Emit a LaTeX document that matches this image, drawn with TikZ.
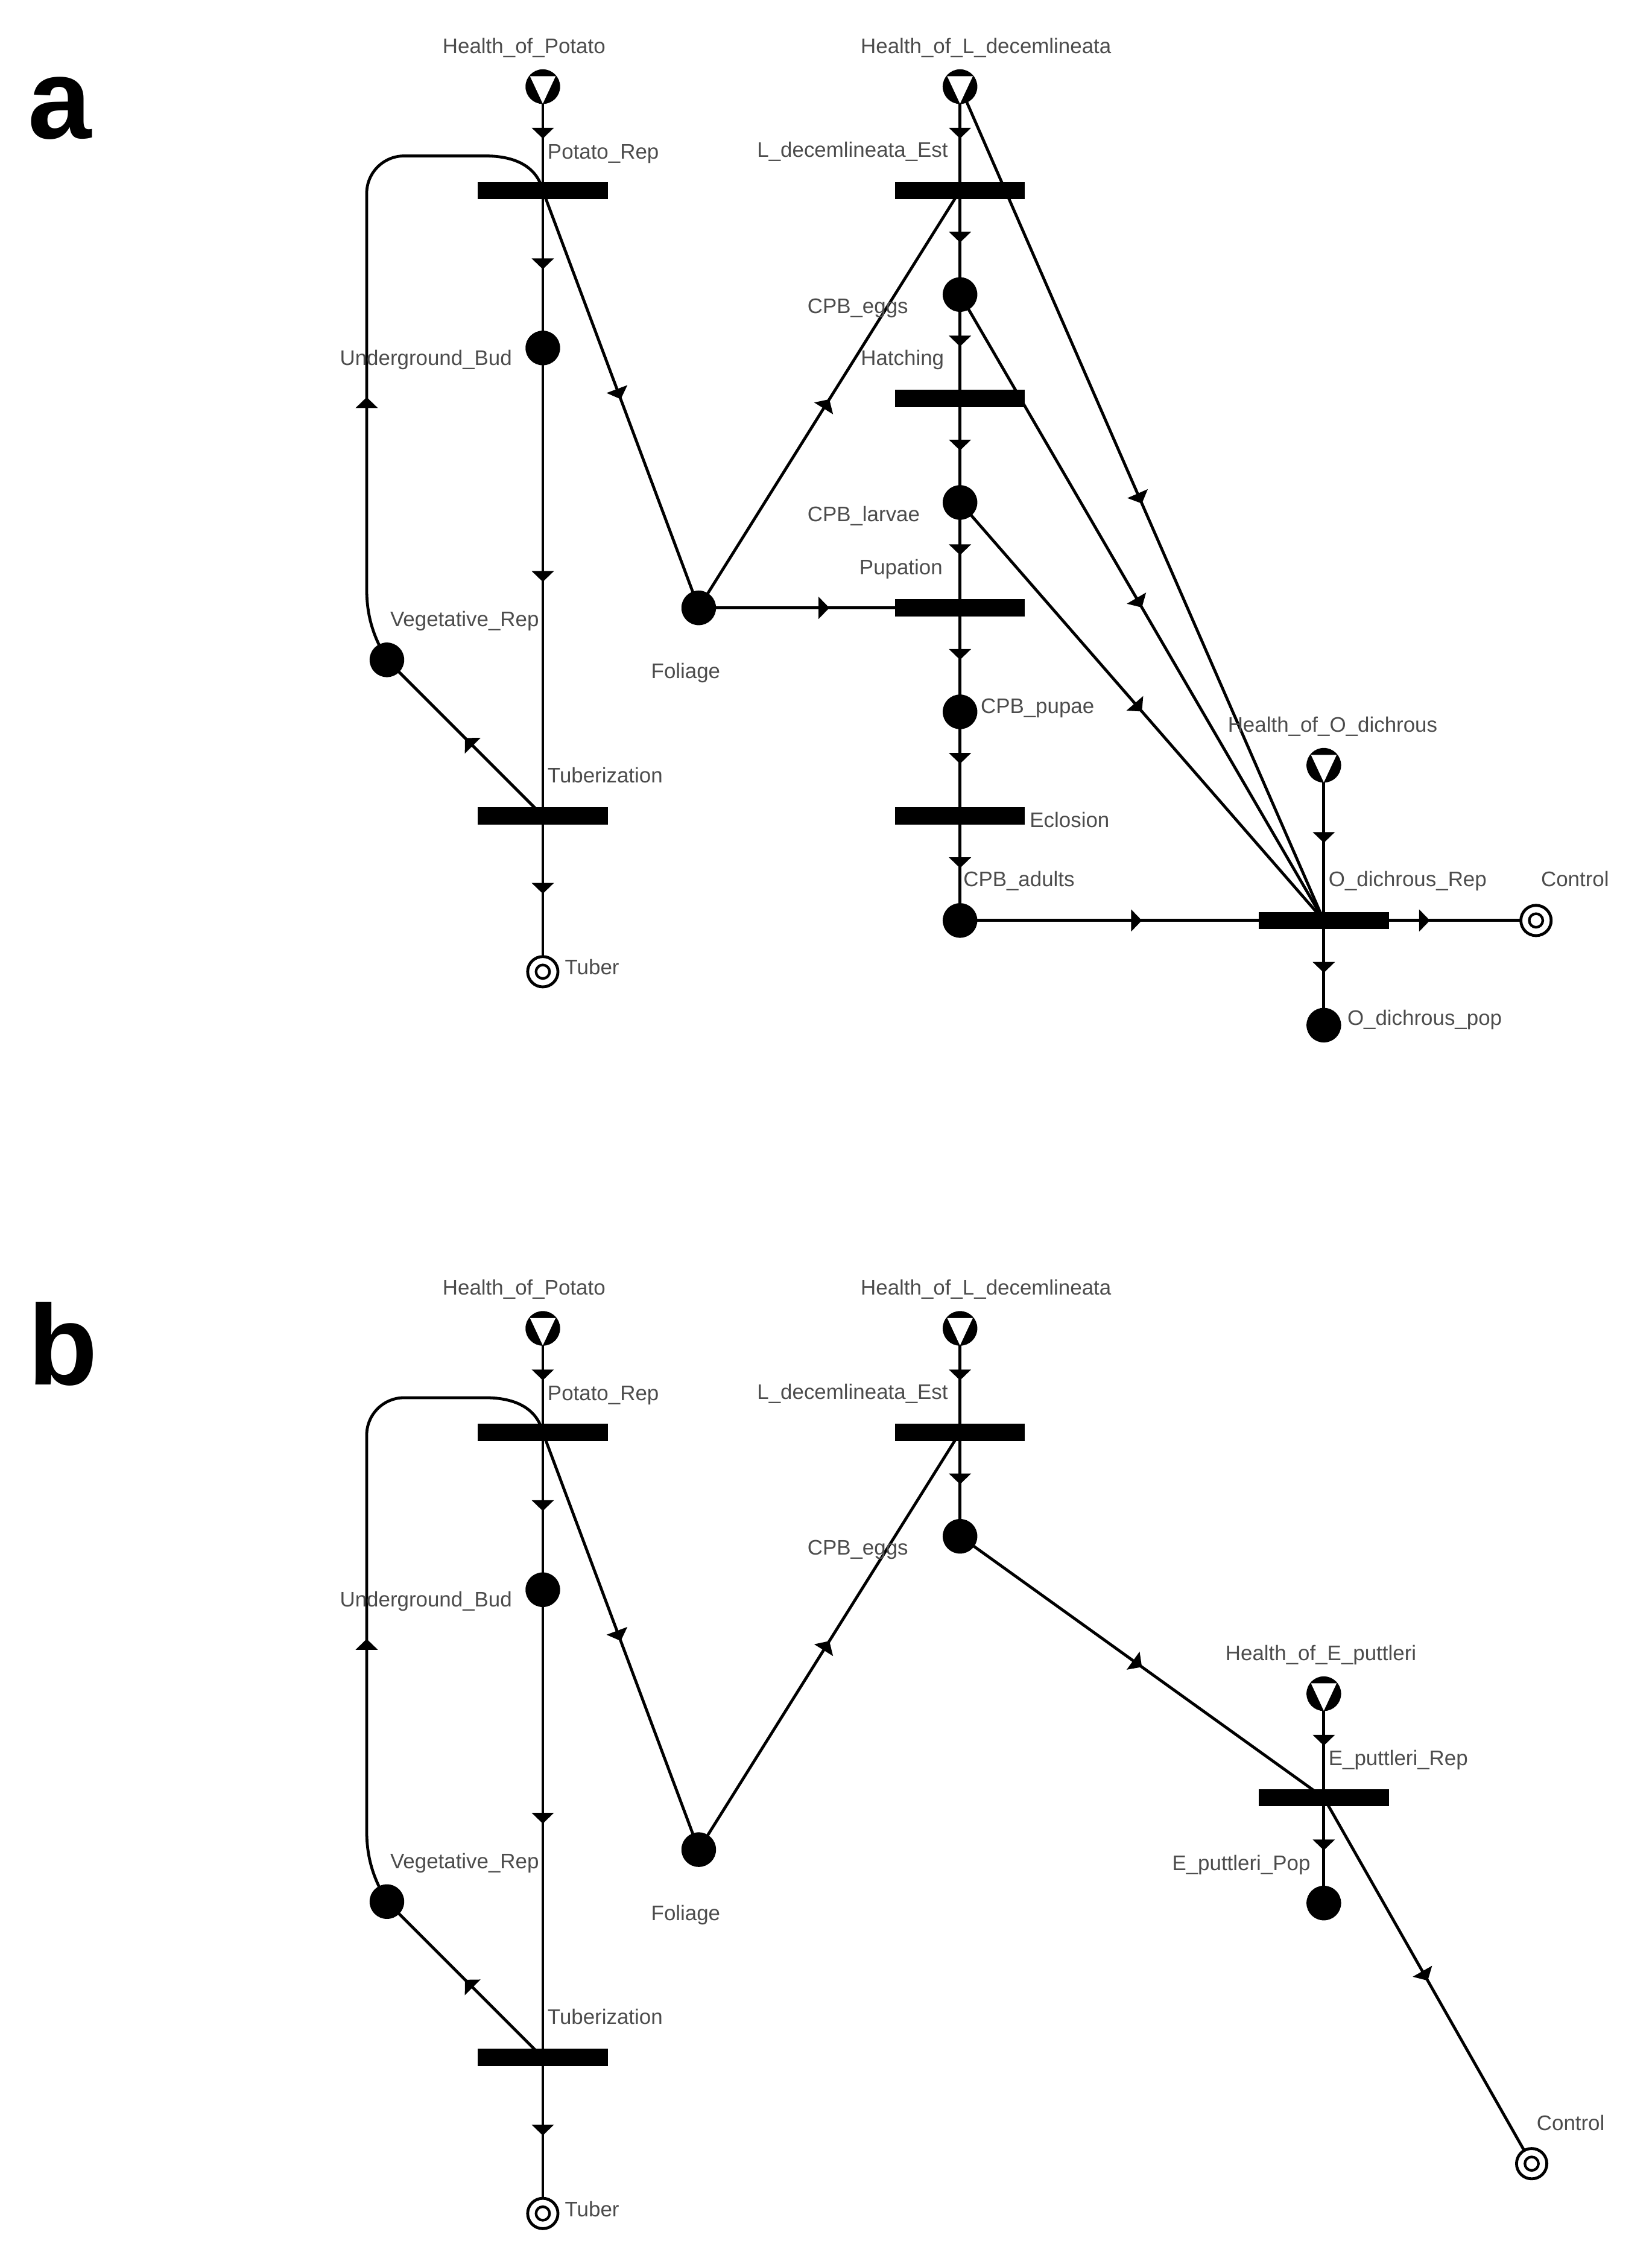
\documentclass[tikz,border=0pt]{standalone}
\usepackage{fontspec}
\setmainfont{Liberation Sans}
\usetikzlibrary{arrows.meta,decorations.markings,backgrounds}
\definecolor{lblgray}{gray}{0.3}

\tikzset{
  place/.style={circle, fill=black, minimum size=0.48cm, inner sep=0pt},
  bar/.style={rectangle, fill=black, minimum width=1.8cm, minimum height=0.24cm, inner sep=0pt},
  src/.style={circle, fill=black, minimum size=0.48cm, inner sep=0pt,
    path picture={\fill[white] ([shift={(141:0.228cm)}]path picture bounding box.center)
      -- ([shift={(39:0.228cm)}]path picture bounding box.center)
      -- ([shift={(270:0.236cm)}]path picture bounding box.center) -- cycle;}},
  sink/.style={circle, draw=black, line width=0.04cm, fill=white, minimum size=0.42cm, inner sep=0pt,
    path picture={\draw[line width=0.036cm] (path picture bounding box.center) circle[radius=0.094cm];}},
  lbl/.style={inner sep=0pt, text=lblgray, font=\fontsize{8.3}{10}\selectfont},
  panel/.style={inner sep=0pt, anchor=base west, font=\fontsize{45}{45}\selectfont\bfseries},
  conn/.style={line width=0.04cm, draw=black},
  midarr/.style={postaction={decorate}, decoration={markings,
      mark=at position #1 with {\arrow{Triangle[width=0.3cm,length=0.15cm]}}}},
  midarr/.default=0.5,
}

\newcommand\potatopart[1]{%
  \node[src] (#1HoP) at (376,60) {};
  \node[bar] (#1PR) at (376,132) {};
  \node[place] (#1UB) at (376,241) {};
  \node[place] (#1VR) at (268,457) {};
  \node[bar] (#1TZ) at (376,565) {};
  \node[sink] (#1TB) at (376,673) {};
  \node[place] (#1FO) at (484,421) {};
  \node[src] (#1HoL) at (665,60) {};
  \node[bar] (#1LE) at (665,132) {};
  \node[place] (#1EG) at (665,204) {};
  \node[lbl, anchor=base] (#1lHoP) at (363,37) {Health\_of\_Potato};
  \node[lbl, anchor=base west] (#1lPR) at (379,110) {Potato\_Rep};
  \node[lbl, anchor=base east] (#1lUB) at (355,253) {Underground\_Bud};
  \node[lbl, anchor=base west] (#1lVR) at (270,434) {Vegetative\_Rep};
  \node[lbl, anchor=base west] (#1lTZ) at (379,542) {Tuberization};
  \node[lbl, anchor=base west] (#1lTB) at (391,675) {Tuber};
  \node[lbl, anchor=base] (#1lFO) at (475,470) {Foliage};
  \node[lbl, anchor=base] (#1lHoL) at (683,37) {Health\_of\_L\_decemlineata};
  \node[lbl, anchor=base east] (#1lLE) at (657,109) {L\_decemlineata\_Est};
  \node[lbl, anchor=base west] (#1lEG) at (559,217) {CPB\_eggs};
  \begin{pgfonlayer}{background}
    \draw[conn,midarr] (#1HoP.center) -- (#1PR.center);
    \draw[conn,midarr] (#1PR.center) -- (#1UB.center);
    \draw[conn,midarr] (#1UB.center) -- (#1TZ.center);
    \draw[conn,midarr] (#1TZ.center) -- (#1TB.center);
    \draw[conn,midarr] (#1TZ.center) -- (#1VR.center);
    \draw[conn,midarr=0.39] (#1VR.center) .. controls (262,446) and (254,432) .. (254,408)
        -- (254,134) .. controls (254,119.6) and (265.6,108) .. (280,108)
        -- (336,108) .. controls (358,108) and (372,116) .. (#1PR.center);
    \draw[conn,midarr] (#1PR.center) -- (#1FO.center);
    \draw[conn,midarr] (#1FO.center) -- (#1LE.center);
    \draw[conn,midarr] (#1HoL.center) -- (#1LE.center);
    \draw[conn,midarr] (#1LE.center) -- (#1EG.center);
  \end{pgfonlayer}
}

\begin{document}
\begin{tikzpicture}[x=0.02cm, y=-0.02cm]
\useasboundingbox (0,0) rectangle (1144,1568);
\begin{pgfonlayer}{background}
  \fill[white] (0,0) rectangle (1144,1568);
\end{pgfonlayer}

% ---------------- panel a ----------------
\node[panel] (pa) at (19,96) {a};
\potatopart{a}
\node[bar] (aHT) at (665,276) {};
\node[place] (aLV) at (665,348) {};
\node[bar] (aPU) at (665,421) {};
\node[place] (aPP) at (665,493) {};
\node[bar] (aEC) at (665,565) {};
\node[place] (aAD) at (665,637.5) {};
\node[src] (aHoO) at (917,530) {};
\node[bar] (aOR) at (917,637.5) {};
\node[place] (aOP) at (917,710) {};
\node[sink] (aCT) at (1064,637.5) {};

\node[lbl, anchor=base west] (alHT) at (596,253) {Hatching};
\node[lbl, anchor=base west] (alLV) at (559,361) {CPB\_larvae};
\node[lbl, anchor=base west] (alPU) at (595,398) {Pupation};
\node[lbl, anchor=base west] (alPP) at (679,494) {CPB\_pupae};
\node[lbl, anchor=base west] (alEC) at (713,573) {Eclosion};
\node[lbl, anchor=base west] (alAD) at (667,614) {CPB\_adults};
\node[lbl, anchor=base east] (alHoO) at (996,507) {Health\_of\_O\_dichrous};
\node[lbl, anchor=base west] (alOR) at (920,614) {O\_dichrous\_Rep};
\node[lbl, anchor=base] (alCT) at (1091,614) {Control};
\node[lbl, anchor=base west] (alOP) at (933,710) {O\_dichrous\_pop};

\begin{pgfonlayer}{background}
  \draw[conn,midarr] (aFO.center) -- (aPU.center);
  \draw[conn,midarr] (aEG.center) -- (aHT.center);
  \draw[conn,midarr] (aHT.center) -- (aLV.center);
  \draw[conn,midarr] (aLV.center) -- (aPU.center);
  \draw[conn,midarr] (aPU.center) -- (aPP.center);
  \draw[conn,midarr] (aPP.center) -- (aEC.center);
  \draw[conn,midarr] (aEC.center) -- (aAD.center);
  \draw[conn,midarr] (aAD.center) -- (aOR.center);
  \draw[conn,midarr] (aHoL.center) -- (aOR.center);
  \draw[conn,midarr] (aEG.center) -- (aOR.center);
  \draw[conn,midarr] (aLV.center) -- (aOR.center);
  \draw[conn,midarr] (aHoO.center) -- (aOR.center);
  \draw[conn,midarr] (aOR.center) -- (aOP.center);
  \draw[conn,midarr] (aOR.center) -- (aCT.center);
\end{pgfonlayer}

% ---------------- panel b ----------------
\begin{scope}[shift={(0,860)}]
\node[panel] (pb) at (19,99) {b};
\potatopart{b}
\node[src] (bHoE) at (917,313) {};
\node[bar] (bER) at (917,385) {};
\node[place] (bEP) at (917,458) {};
\node[sink] (bCT) at (1061,638.5) {};

\node[lbl, anchor=base] (blHoE) at (915,290) {Health\_of\_E\_puttleri};
\node[lbl, anchor=base west] (blER) at (920,362.5) {E\_puttleri\_Rep};
\node[lbl, anchor=base east] (blEP) at (908,435.5) {E\_puttleri\_Pop};
\node[lbl, anchor=base] (blCT) at (1088,615.5) {Control};

\begin{pgfonlayer}{background}
  \draw[conn,midarr] (bEG.center) -- (bER.center);
  \draw[conn,midarr] (bHoE.center) -- (bER.center);
  \draw[conn,midarr] (bER.center) -- (bEP.center);
  \draw[conn,midarr] (bER.center) -- (bCT.center);
\end{pgfonlayer}
\end{scope}
\end{tikzpicture}
\end{document}
